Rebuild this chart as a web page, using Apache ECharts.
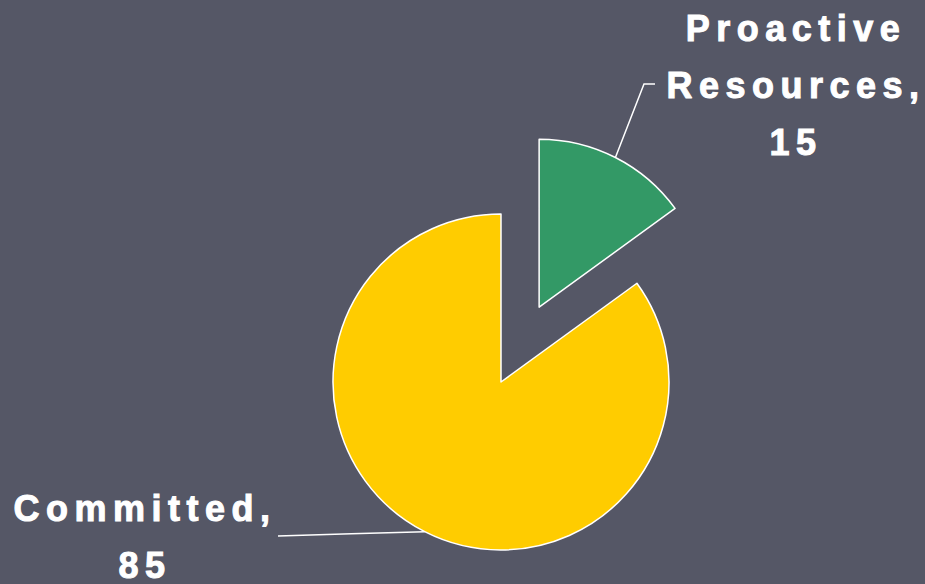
<!DOCTYPE html>
<html>
<head>
<meta charset="utf-8">
<title>Committed vs Proactive Resources</title>
<style>
  html, body { margin: 0; padding: 0; background: #555766; }
  #chart { width: 925px; height: 584px; }
  /* the original labels are set with wide character spacing */
  #chart text { letter-spacing: 6.5px; }
</style>
</head>
<body>
<div id="chart"></div>
<script src="https://cdn.jsdelivr.net/npm/echarts@6/dist/echarts.min.js"></script>
<script>
// data
var categories = ['Proactive Resources', 'Committed'];
var values = [15, 85];
var exploded = [true, false];

// styling / layout
var sliceColors = ['#339966', '#FFCC00'];
var pieCenter = [501, 382];
var pieRadius = 168;
var explodeDist = 84;
// where each label block sits (bottom-centre), its line heights and leader bend
var labelSpots = [
  { x: 796, y: 171, nameLH: 57, valueLH: 57, knee: [644, 84], end: [655, 84] },
  { x: 145, y: 583, nameLH: 78, valueLH: 36, knee: null, end: [278, 536] }
];

// offset of the exploded slice along its bisector (clockwise from 12 o'clock)
var total = values.reduce(function (a, b) { return a + b; }, 0);
function bisectorOffset(idx) {
  var before = 0;
  for (var i = 0; i < idx; i++) before += values[i];
  var mid = (before + values[idx] / 2) / total * 2 * Math.PI;
  return [explodeDist * Math.sin(mid), -explodeDist * Math.cos(mid)];
}

function buildSeries(group) {
  // group true -> the exploded slice(s); false -> the rest
  var off = [0, 0];
  categories.forEach(function (c, i) {
    if (exploded[i] && group) off = bisectorOffset(i);
  });
  return {
    type: 'pie',
    center: [pieCenter[0] + off[0], pieCenter[1] + off[1]],
    radius: pieRadius,
    startAngle: 90,
    clockwise: true,
    silent: true,
    avoidLabelOverlap: false,
    emphasis: { disabled: true },
    label: {
      position: 'outside',
      color: '#ffffff',
      fontFamily: 'Liberation Sans, Arial, sans-serif',
      fontWeight: 'bold',
      fontSize: 36,
      lineHeight: 57,
      align: 'center',
      textBorderColor: '#ffffff',
      textBorderWidth: 1,
      formatter: function (p) {
        var words = p.name.split(' ');
        words[words.length - 1] += ',';
        return words.map(function (w) { return '{n|' + w + '}'; }).join('\n') +
          '\n{v|' + p.value + '}';
      }
    },
    labelLine: {
      length: 20,
      length2: 20,
      lineStyle: { color: '#ffffff', width: 1.5 }
    },
    labelLayout: function (params) {
      var s = labelSpots[params.dataIndex];
      var out = { x: s.x, y: s.y, align: 'center', verticalAlign: 'bottom' };
      if (params.labelLinePoints) {
        var start = params.labelLinePoints[0];
        var mid = s.knee || [(start[0] + s.end[0]) / 2, (start[1] + s.end[1]) / 2];
        out.labelLinePoints = [start, mid, s.end];
      }
      return out;
    },
    data: categories.map(function (name, i) {
      var visible = exploded[i] === group;
      return {
        name: name,
        value: values[i],
        itemStyle: visible
          ? { color: sliceColors[i], borderColor: '#ffffff', borderWidth: 1.5 }
          : { color: 'rgba(0,0,0,0)', borderWidth: 0 },
        label: {
          show: visible,
          rich: {
            n: { lineHeight: labelSpots[i].nameLH },
            v: { lineHeight: labelSpots[i].valueLH }
          }
        },
        labelLine: { show: visible }
      };
    })
  };
}

var chart = echarts.init(document.getElementById('chart'), null, { renderer: 'svg' });
chart.setOption({
  backgroundColor: '#555766',
  animation: false,
  series: [buildSeries(false), buildSeries(true)]
});
</script>
</body>
</html>
